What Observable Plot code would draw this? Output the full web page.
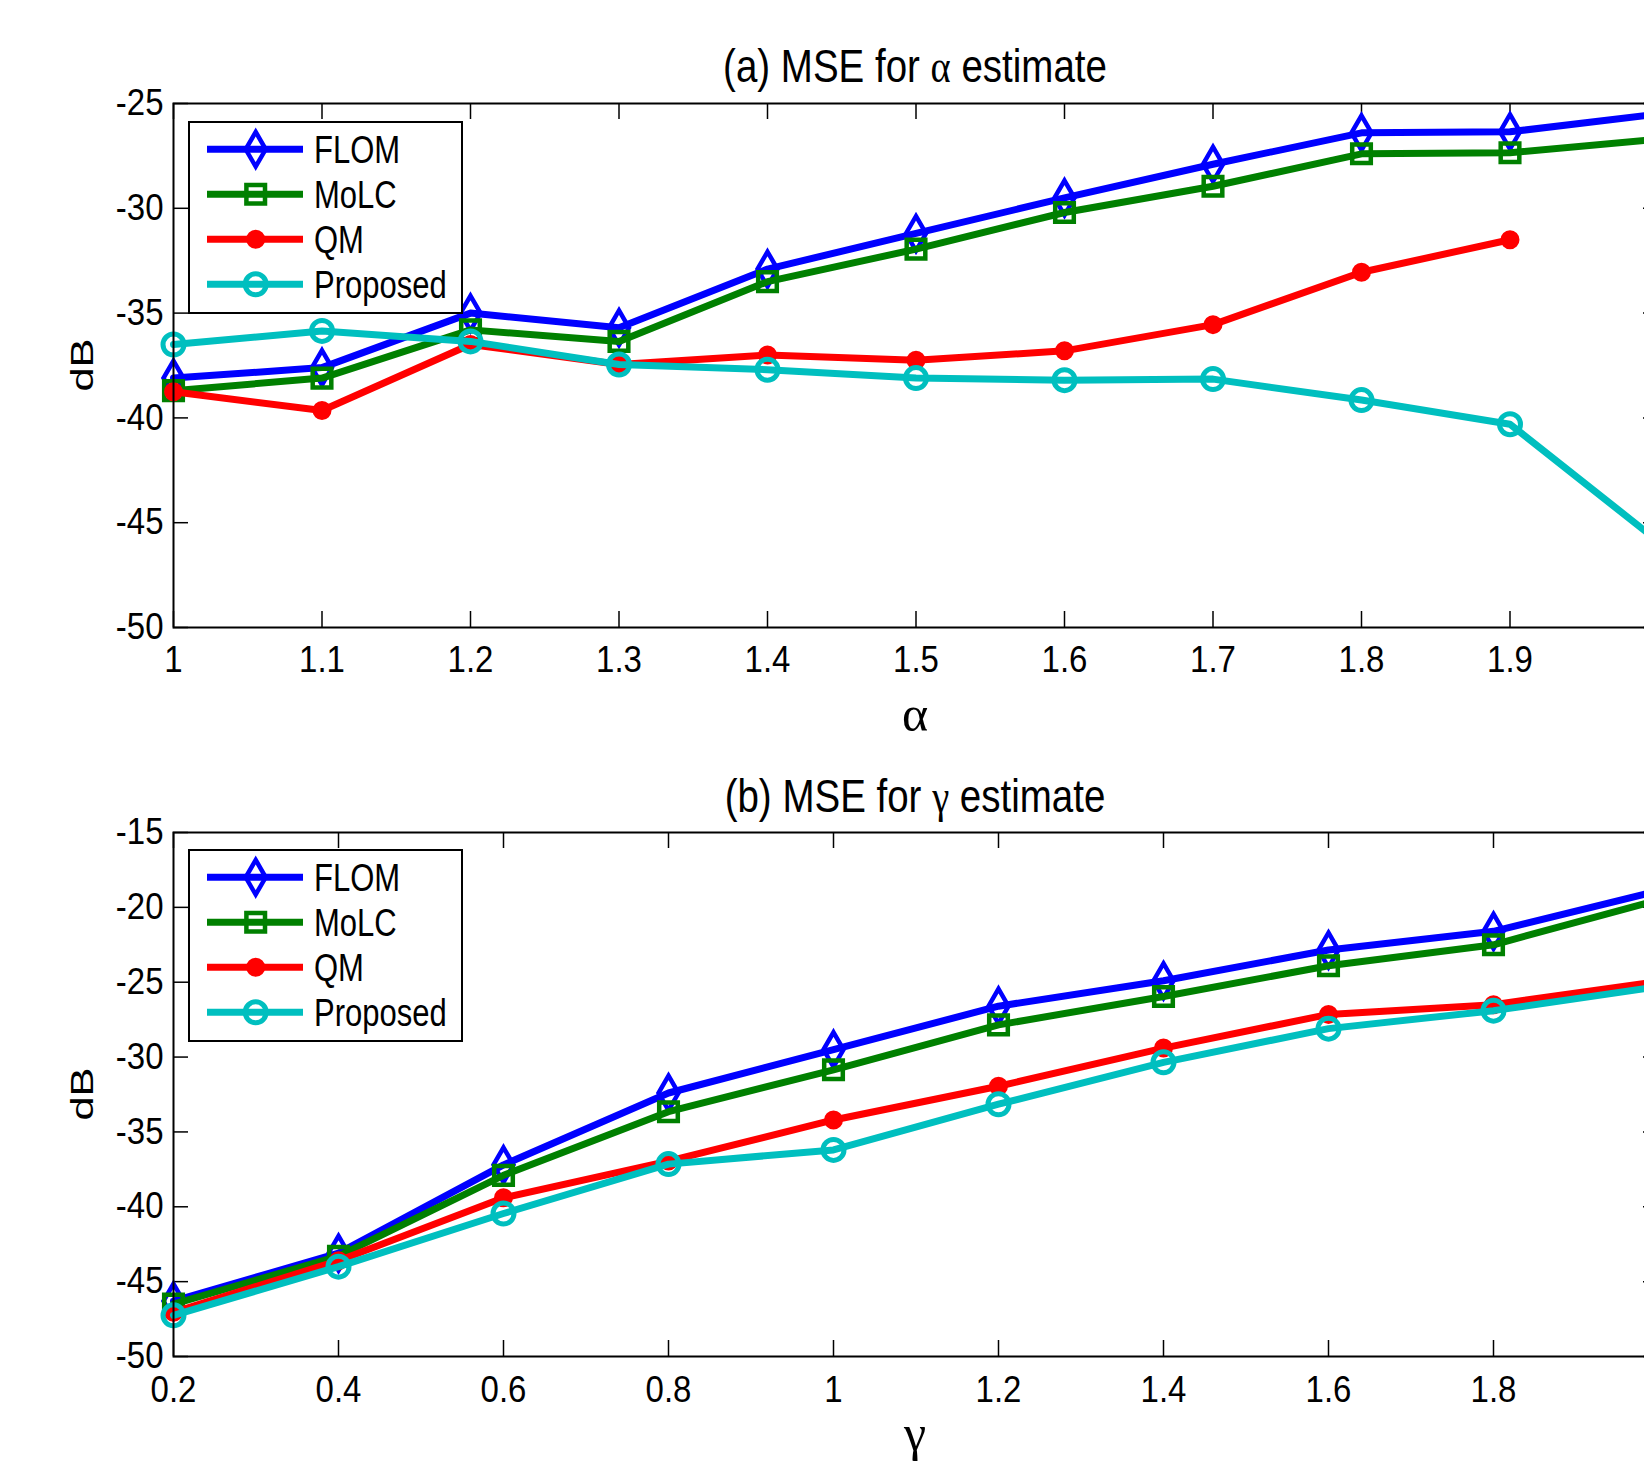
<!DOCTYPE html>
<html>
<head>
<meta charset="utf-8">
<script src="https://cdn.jsdelivr.net/npm/d3@7"></script>
<script src="https://cdn.jsdelivr.net/npm/@observablehq/plot@0.6"></script>
<style>
html, body { margin: 0; padding: 0; background: #fff; overflow: hidden; width: 1644px; height: 1461px; }
#root { position: relative; width: 1644px; height: 1461px; overflow: hidden; font-family: "Liberation Sans", Arial, Helvetica, sans-serif; color: #000; }
.panel { position: absolute; left: 0; max-width: none !important; }
.title { position: absolute; left: 915px; font-size: 38.5px; line-height: 1; white-space: nowrap;
         transform-origin: 50% 0.85em; transform: translateX(-50%) scaleY(1.18); }
.gr { font-family: "Liberation Serif", "Times New Roman", serif; }
.ylab { position: absolute; left: 82px; font-size: 31px; line-height: 1; white-space: nowrap;
        transform: translate(-50%, -50%) rotate(-90deg) scaleX(1.4); }
.xlab { position: absolute; left: 915px; font-size: 50px; line-height: 1; font-family: "Liberation Serif", "Times New Roman", serif;
        transform: translateX(-50%); }
.legend { position: absolute; }
</style>
</head>
<body>
<div id="root"></div>
<script>
// ---------- data ----------
const seriesNames = ["FLOM", "MoLC", "QM", "Proposed"];
const seriesColors = ["#0000ff", "#008000", "#ff0000", "#00bfbf"];

// (a) MSE for alpha estimate
const alphaX = [1.0, 1.1, 1.2, 1.3, 1.4, 1.5, 1.6, 1.7, 1.8, 1.9, 2.0];
const alphaFLOM = [-38.1, -37.6, -35.0, -35.7, -32.9, -31.2, -29.5, -27.9, -26.4, -26.35, -25.5];
const alphaMoLC = [-38.7, -38.1, -35.8, -36.35, -33.5, -31.95, -30.2, -28.95, -27.4, -27.35, -26.7];
const alphaQM = [-38.75, -39.65, -36.5, -37.45, -37.0, -37.25, -36.8, -35.55, -33.05, -31.5, null];
const alphaProposed = [-36.5, -35.85, -36.35, -37.45, -37.7, -38.1, -38.2, -38.15, -39.15, -40.3, -45.9];
const alphaXTicks = [1, 1.1, 1.2, 1.3, 1.4, 1.5, 1.6, 1.7, 1.8, 1.9, 2];
const alphaXTickLabels = [1, 1.1, 1.2, 1.3, 1.4, 1.5, 1.6, 1.7, 1.8, 1.9]; // "2" lies outside the picture
const alphaYTicks = [-50, -45, -40, -35, -30, -25];

// (b) MSE for gamma estimate
const gammaX = [0.2, 0.4, 0.6, 0.8, 1.0, 1.2, 1.4, 1.6, 1.8, 2.0];
const gammaFLOM = [-46.3, -43.1, -37.2, -32.4, -29.5, -26.6, -24.9, -22.85, -21.6, -18.9];
const gammaMoLC = [-46.5, -43.3, -37.9, -33.65, -30.85, -27.85, -25.95, -23.9, -22.5, -19.5];
const gammaQM = [-47.05, -43.6, -39.4, -36.95, -34.2, -31.95, -29.4, -27.15, -26.5, -24.95];
const gammaProposed = [-47.25, -44.0, -40.45, -37.15, -36.2, -33.15, -30.35, -28.1, -26.9, -25.3];
const gammaXTicks = [0.2, 0.4, 0.6, 0.8, 1, 1.2, 1.4, 1.6, 1.8, 2];
const gammaXTickLabels = [0.2, 0.4, 0.6, 0.8, 1, 1.2, 1.4, 1.6, 1.8];
const gammaYTicks = [-50, -45, -40, -35, -30, -25, -20, -15];

const titleA = ["(a) MSE for ", "α", " estimate"];
const titleB = ["(b) MSE for ", "γ", " estimate"];
const yLabel = "dB";

// ---------- styling helpers ----------
const markerSpec = [
  {symbol: "diamond", r: 10.5, fill: "none", strokeWidth: 4.5},
  {symbol: "square", r: 10.5, fill: "none", strokeWidth: 4.5},
  {symbol: "circle", r: 8.5, fill: "fill", strokeWidth: 2},
  {symbol: "circle", r: 10.5, fill: "none", strokeWidth: 5}
];
const LINE_W = 7;
const SVG_W = 1700, ML = 173, MR = SVG_W - 1658;

function makePanel({xs, values, xDomain, yDomain, xTicks, xLabels, yTicks, height, mt, mb, tickPad}) {
  const plotH = height - mt - mb;
  const plotW = SVG_W - ML - MR;
  const marks = [
    Plot.ruleX(xTicks, {x: d => d, insetTop: plotH - 16, stroke: "#000", strokeWidth: 1.5}),
    Plot.ruleX(xTicks, {x: d => d, insetBottom: plotH - 16, stroke: "#000", strokeWidth: 1.5}),
    Plot.ruleY(yTicks, {y: d => d, insetRight: plotW - 15, stroke: "#000", strokeWidth: 1.5}),
    Plot.ruleY(yTicks, {y: d => d, insetLeft: plotW - 15, stroke: "#000", strokeWidth: 1.5}),
    Plot.axisX(xLabels, {anchor: "bottom", tickSize: 0, tickPadding: tickPad, label: null,
                         tickFormat: d => String(+d.toFixed(1)), fontSize: 33}),
    Plot.axisY(yTicks, {anchor: "left", tickSize: 0, tickPadding: 10, label: null,
                        tickFormat: d => String(d), fontSize: 33})
  ];
  values.forEach((vals, i) => {
    const rows = xs.map((x, j) => ({x, y: vals[j]})).filter(d => d.y != null);
    const color = seriesColors[i];
    const m = markerSpec[i];
    marks.push(Plot.line(rows, {x: "x", y: "y", stroke: color, strokeWidth: LINE_W, strokeLinejoin: "round"}));
    marks.push(Plot.dot(rows, {x: "x", y: "y", symbol: m.symbol, r: m.r, stroke: color,
                               strokeWidth: m.strokeWidth, fill: m.fill === "fill" ? color : "none"}));
  });
  marks.push(Plot.frame({stroke: "#000", strokeWidth: 2}));
  const svg = Plot.plot({
    width: SVG_W, height,
    marginLeft: ML, marginRight: MR, marginTop: mt, marginBottom: mb,
    x: {domain: xDomain},
    y: {domain: yDomain},
    style: {fontFamily: '"Liberation Sans", Arial, sans-serif', fontSize: "33px", color: "#000",
            background: "transparent"},
    marks
  });
  svg.style.maxWidth = "none";
  svg.style.width = SVG_W + "px";
  svg.style.height = height + "px";
  // slight vertical stretch of tick labels, as in the reference
  d3.select(svg).selectAll("g[aria-label$='tick label'] text").each(function () {
    const t = this.getAttribute("transform") || "";
    this.setAttribute("transform", t + " scale(1,1.1)");
  });
  return svg;
}

function makeLegend(left, top) {
  const W = 280, H = 198;
  const svg = d3.create("svg").attr("class", "legend").attr("width", W).attr("height", H)
    .style("left", left + "px").style("top", top + "px");
  svg.append("rect").attr("x", 3).attr("y", 3).attr("width", 273).attr("height", 191)
    .attr("fill", "#fff").attr("stroke", "#000").attr("stroke-width", 2);
  const symMap = {diamond: d3.symbolDiamond, square: d3.symbolSquare, circle: d3.symbolCircle};
  seriesNames.forEach((name, i) => {
    const y = 30.3 + i * 45;
    const color = seriesColors[i];
    const m = markerSpec[i];
    const g = svg.append("g");
    g.append("line").attr("x1", 21).attr("x2", 117).attr("y1", y).attr("y2", y)
      .attr("stroke", color).attr("stroke-width", LINE_W);
    g.append("path").attr("d", d3.symbol(symMap[m.symbol], Math.PI * m.r * m.r)())
      .attr("transform", `translate(69.7,${y})`)
      .attr("fill", m.fill === "fill" ? color : "none").attr("stroke", color).attr("stroke-width", m.strokeWidth);
    g.append("text").attr("transform", `translate(128,${y + 14}) scale(1,1.25)`)
      .attr("font-family", '"Liberation Sans", Arial, sans-serif').attr("font-size", 31)
      .attr("fill", "#000").text(name);
  });
  return svg.node();
}

function makeTitle(parts, top) {
  const div = document.createElement("div");
  div.className = "title";
  div.style.top = top + "px";
  div.append(parts[0]);
  const s = document.createElement("span"); s.className = "gr"; s.textContent = parts[1];
  div.append(s);
  div.append(parts[2]);
  return div;
}

const root = document.getElementById("root");

// panel (a)
const panelA = makePanel({
  xs: alphaX, values: [alphaFLOM, alphaMoLC, alphaQM, alphaProposed],
  xDomain: [1, 2], yDomain: [-50, -25], xTicks: alphaXTicks, xLabels: alphaXTickLabels, yTicks: alphaYTicks,
  height: 730, mt: 103, mb: 103, tickPad: 19
});
panelA.classList.add("panel"); panelA.style.top = "0px";
root.appendChild(panelA);

// panel (b)
const panelB = makePanel({
  xs: gammaX, values: [gammaFLOM, gammaMoLC, gammaQM, gammaProposed],
  xDomain: [0.2, 2], yDomain: [-50, -15], xTicks: gammaXTicks, xLabels: gammaXTickLabels, yTicks: gammaYTicks,
  height: 731, mt: 102, mb: 105, tickPad: 20
});
panelB.classList.add("panel"); panelB.style.top = "730px";
root.appendChild(panelB);

// titles
root.appendChild(makeTitle(titleA, 50));
root.appendChild(makeTitle(titleB, 780));

// y labels
[365, 1094].forEach(cy => {
  const d = document.createElement("div");
  d.className = "ylab"; d.style.top = cy + "px"; d.textContent = yLabel;
  root.appendChild(d);
});

// x labels
[[titleA[1], 689], [titleB[1], 1408]].forEach(([t, top]) => {
  const d = document.createElement("div");
  d.className = "xlab"; d.style.top = top + "px"; d.textContent = t;
  root.appendChild(d);
});

// legends
root.appendChild(makeLegend(186, 119));
root.appendChild(makeLegend(186, 847));
</script>
</body>
</html>
